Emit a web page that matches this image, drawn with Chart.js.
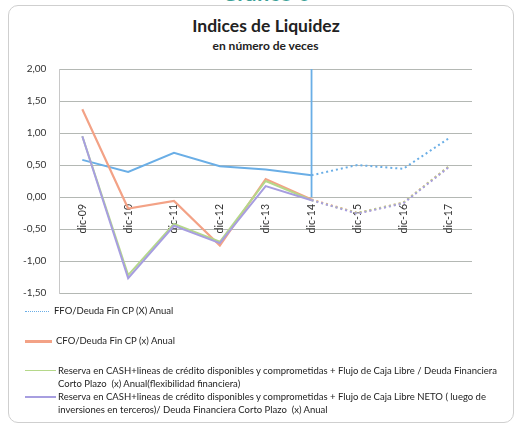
<!DOCTYPE html>
<html><head><meta charset="utf-8">
<script src="https://cdn.jsdelivr.net/npm/chart.js@4/dist/chart.umd.min.js"></script>
<style>
html,body{margin:0;padding:0;background:#fff;}
#wrap{position:relative;width:522px;height:428px;overflow:hidden;font-family:Lato,"Open Sans",sans-serif;}
#frame{position:absolute;left:8px;top:5px;width:506px;height:418px;border:1px solid #cfcfcf;border-radius:10px;box-sizing:border-box;}
#cv{position:absolute;left:0;top:0;width:522px;height:312px;}
#top{position:absolute;left:0;width:532px;top:-20px;text-align:center;color:#3a9f96;font:bold 22px/26px Lato,sans-serif;}
#t1{position:absolute;left:0;width:532px;top:15px;text-align:center;color:#222;font:bold 17.5px/22px Lato,sans-serif;}
#t2{position:absolute;left:0;width:531px;top:39px;text-align:center;color:#222;font:bold 12px/14px Lato,sans-serif;}
.lg{position:absolute;font-size:9.5px;color:#222;line-height:13px;}
.sw{position:absolute;height:0;}
</style></head><body>
<div id="wrap">
<div id="top">Gráfico 6</div>
<div id="frame"></div>
<div id="t1">Indices de Liquidez</div>
<div id="t2">en número de veces</div>
<div id="cv"><canvas id="c" width="522" height="312"></canvas></div>
<div class="sw" style="left:25px;top:311px;width:24px;border-top:1.5px dotted #6aaee6"></div>
<div class="lg" style="left:54px;top:304px">FFO/Deuda Fin CP (X) Anual</div>
<div class="sw" style="left:25px;top:340px;width:27px;border-top:3px solid #f3a286"></div>
<div class="lg" style="left:56px;top:334px">CFO/Deuda Fin CP (x) Anual</div>
<div class="sw" style="left:25px;top:370px;width:31px;border-top:1.5px solid #b5d88a"></div>
<div class="lg" style="left:58px;top:364px">Reserva en CASH+lineas de crédito disponibles y comprometidas + Flujo de Caja Libre / Deuda Financiera<br>Corto Plazo&nbsp; (x) Anual(flexibilidad financiera)</div>
<div class="sw" style="left:25px;top:396px;width:31px;border-top:2px solid #a79ee0"></div>
<div class="lg" style="left:58px;top:390px">Reserva en CASH+lineas de crédito disponibles y comprometidas + Flujo de Caja Libre NETO ( luego de<br>inversiones en terceros)/ Deuda Financiera Corto Plazo&nbsp; (x) Anual</div>
</div>
<script>
const categories = ['dic-09','dic-10','dic-11','dic-12','dic-13','dic-14','dic-15','dic-16','dic-17'];
const forecastFrom = 'dic-14';
const ffo  = [0.58, 0.39, 0.69, 0.48, 0.43, 0.34, 0.50, 0.44, 0.92];
const cfo  = [1.37, -0.18, -0.06, -0.76, 0.28, -0.04, -0.25, -0.09, 0.48];
const flex = [0.95, -1.22, -0.42, -0.70, 0.25, -0.05, -0.25, -0.09, 0.48];
const neto = [0.95, -1.27, -0.45, -0.72, 0.17, -0.05, -0.26, -0.10, 0.47];
const yTicks = [-1.5, -1.0, -0.5, 0, 0.5, 1.0, 1.5, 2.0];

const fIdx = categories.indexOf(forecastFrom);
const seg = {borderDash: ctx => ctx.p0DataIndex >= fIdx ? [2,3] : undefined};

const vline = {
  id:'vline',
  afterDatasetsDraw(chart){
    const {ctx, scales:{x,y}} = chart;
    const px = x.getPixelForValue(fIdx);
    ctx.save();
    ctx.strokeStyle = '#6aaee6';
    ctx.lineWidth = 1.8;
    ctx.beginPath();
    ctx.moveTo(px, y.getPixelForValue(yTicks[yTicks.length-1]));
    ctx.lineTo(px, y.getPixelForValue(0));
    ctx.stroke();
    ctx.restore();
  }
};

function ds(label, data, color, w){
  return {label, data, borderColor: color, backgroundColor: color, borderWidth: w,
    pointRadius: 0, tension: 0, segment: seg};
}

new Chart(document.getElementById('c'), {
  type: 'line',
  data: {
    labels: categories,
    datasets: [
      ds('Reserva NETO', neto, '#a79ee0', 2),
      ds('Reserva flexibilidad', flex, '#b5d88a', 2),
      ds('CFO/Deuda Fin CP (x) Anual', cfo, '#f3a286', 2.2),
      ds('FFO/Deuda Fin CP (X) Anual', ffo, '#6aaee6', 2)
    ]
  },
  options: {
    responsive: false,
    animation: false,
    layout: {padding: {left: 10, right: 50, top: 69, bottom: 8}},
    plugins: {
      legend: {display: false},
      tooltip: {enabled: false}
    },
    scales: {
      x: {
        position: {y: 0},
        offset: true,
        grid: {display: false, drawTicks: false},
        border: {display: false},
        ticks: {minRotation: 90, maxRotation: 90, padding: 7, color: '#333',
          font: {family: 'Lato', size: 10.5}}
      },
      y: {
        min: yTicks[0], max: yTicks[yTicks.length-1],
        afterBuildTicks: s => { s.ticks = yTicks.map(v => ({value: v})); },
        grid: {color: '#b4b8b4', drawTicks: false},
        border: {display: true, color: '#c8c8c8', dash: []},
        ticks: {padding: 13, color: '#333', font: {family: 'Lato', size: 10},
          callback: v => v.toFixed(2).replace('.', ',')}
      }
    }
  },
  plugins: [vline]
});
</script>
</body></html>
